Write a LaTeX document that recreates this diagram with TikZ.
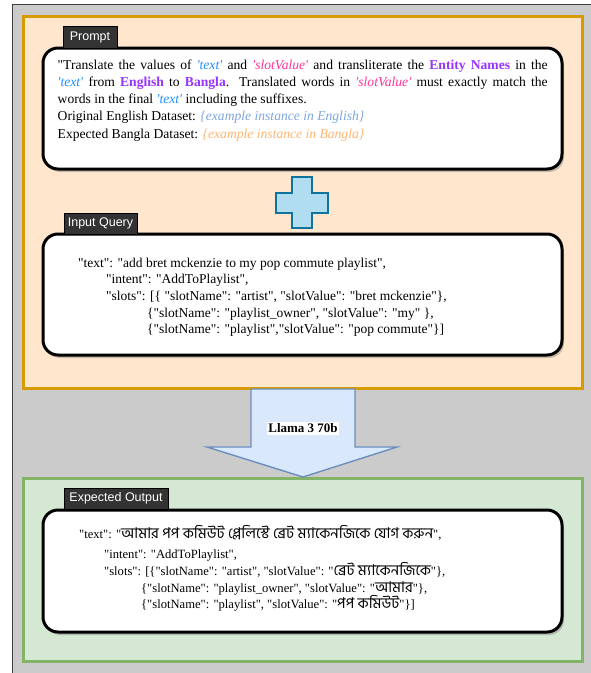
\documentclass[tikz,border=0pt]{standalone}
\usepackage{fontspec}
\setmainfont{Liberation Serif}[Ligatures=TeXOff]
\newfontfamily\tabfont{Liberation Sans}
\newfontfamily\bnfont[Script=Bengali]{Hind Siliguri}
\usetikzlibrary{shadows}
\definecolor{bggray}{HTML}{CBCBCB}
\definecolor{orfill}{HTML}{FFE6CC}
\definecolor{ordraw}{HTML}{D79B00}
\definecolor{grfill}{HTML}{D5E8D4}
\definecolor{grdraw}{HTML}{82B366}
\definecolor{tabgray}{HTML}{333333}
\definecolor{crfill}{HTML}{B1DDF0}
\definecolor{crdraw}{HTML}{10739E}
\definecolor{arfill}{HTML}{DAE8FC}
\definecolor{ardraw}{HTML}{6C8EBF}
\definecolor{tblue}{HTML}{1F8FFF}
\definecolor{spink}{HTML}{FF3399}
\definecolor{epurple}{HTML}{9933FF}
\definecolor{engblue}{HTML}{7EA6E0}
\definecolor{banorange}{HTML}{FFB570}
\tikzset{
  panel/.style={draw=black, line width=3pt, fill=white, rounded corners=15pt,
    drop shadow={shadow xshift=2pt, shadow yshift=-3pt, opacity=0.35, fill=black!60}},
  tab/.style={draw=black, fill=tabgray, text=white, font=\tabfont\fontsize{12.5}{14}\selectfont, inner sep=0pt, line width=0.6pt},
  inline/.style={anchor=base west, inner sep=0pt, font=\fontsize{13.5}{16}\selectfont},
  outline/.style={anchor=base west, inner sep=0pt, font=\fontsize{12.6}{16}\selectfont},
}
\newcommand{\tq}[1]{\textcolor{tblue}{\textit{'#1'}}}
\newcommand{\sq}[1]{\textcolor{spink}{\textit{'#1'}}}
\newcommand{\pb}[1]{\textcolor{epurple}{\textbf{#1}}}
\newcommand{\bn}[1]{{\bnfont\fontsize{14.9}{16}\selectfont #1}}
\begin{document}
\begin{tikzpicture}[x=1pt,y=-1pt]
\useasboundingbox (0,0) rectangle (590,673);
% background
\fill[bggray] (12,4) rectangle (592,675);
\draw[black!75, line width=1pt] (12,675) -- (12,4) -- (592,4);
% orange and green areas
\draw[fill=orfill, draw=ordraw, line width=3pt] (23.5,16.5) rectangle (582.5,388.5);
\draw[fill=grfill, draw=grdraw, line width=3pt] (23.5,478.5) rectangle (582.5,661.5);
% panels
\node[panel, minimum width=519pt, minimum height=121pt] (promptbox) at (302.5,108.5) {};
\node[panel, minimum width=519pt, minimum height=121pt] (inputbox) at (302.5,294.5) {};
\node[panel, minimum width=519pt, minimum height=122pt] (outputbox) at (302.5,571) {};
% tabs
\node[tab, minimum width=54pt, minimum height=22pt] (prompttab) at (90,37) {Prompt};
\node[tab, minimum width=73pt, minimum height=21pt] (inputtab) at (100.5,223.5) {Input Query};
\node[tab, minimum width=104pt, minimum height=21pt] (outputtab) at (116,498.5) {Expected Output};
% cross
\draw[fill=crfill, draw=crdraw, line width=1.6pt]
  (292,177) -- (312,177) -- (312,193) -- (328,193) -- (328,213) -- (312,213) -- (312,228)
  -- (292,228) -- (292,213) -- (276,213) -- (276,193) -- (292,193) -- cycle;
% arrow
\draw[fill=arfill, draw=ardraw, line width=1.4pt]
  (251,389) -- (355,389) -- (355,447) -- (397,447) -- (303,477) -- (207,447) -- (251,447) -- cycle;
\node[fill=white, inner sep=1.5pt, font=\bfseries\fontsize{13}{15}\selectfont] (llm) at (303,428.5) {Llama 3 70b};
% prompt text
\node[anchor=north west, inner sep=0pt, text width=490pt, align=justify,
  font=\fontsize{13.6}{17.2}\selectfont] (prompttext) at (57.5,59.5)
{"Translate the values of \tq{text} and \sq{slotValue} and transliterate the \pb{Entity Names} in the\linebreak
\tq{text} from \pb{English} to \pb{Bangla}. Translated words in \sq{slotValue} must exactly match the\linebreak
words in the final \tq{text} including the suffixes.\\
Original English Dataset: \textcolor{engblue}{\textit{\{example instance in English\}}}\\
Expected Bangla Dataset: \textcolor{banorange}{\textit{\{example instance in Bangla\}}}};
% input text
\node[inline] (in1) at (78,267) {"text": "add bret mckenzie to my pop commute playlist",};
\node[inline] (in2) at (106,283.7) {"intent": "AddToPlaylist",};
\node[inline] (in3) at (106,300.4) {"slots": [\{ "slotName": "artist", "slotValue": "bret mckenzie"\},};
\node[inline] (in4) at (147,317.1) {\{"slotName": "playlist\_owner", "slotValue": "my" \},};
\node[inline] (in5) at (147,333.8) {\{"slotName": "playlist","slotValue": "pop commute"\}]};
% output text
\node[outline] (out1) at (79,538) {"text": "\bn{আমার পপ কমিউট প্লেলিস্টে ব্রেট ম্যাকেনজিকে যোগ করুন}",};
\node[outline] (out2) at (104,558) {"intent": "AddToPlaylist",};
\node[outline] (out3) at (104,575) {"slots": [\{"slotName": "artist", "slotValue": "\bn{ব্রেট ম্যাকেনজিকে}"\},};
\node[outline] (out4) at (141,592) {\{"slotName": "playlist\_owner", "slotValue": "\bn{আমার}"\},};
\node[outline] (out5) at (141,608) {\{"slotName": "playlist", "slotValue": "\bn{পপ কমিউট}"\}]};
\end{tikzpicture}
\end{document}
